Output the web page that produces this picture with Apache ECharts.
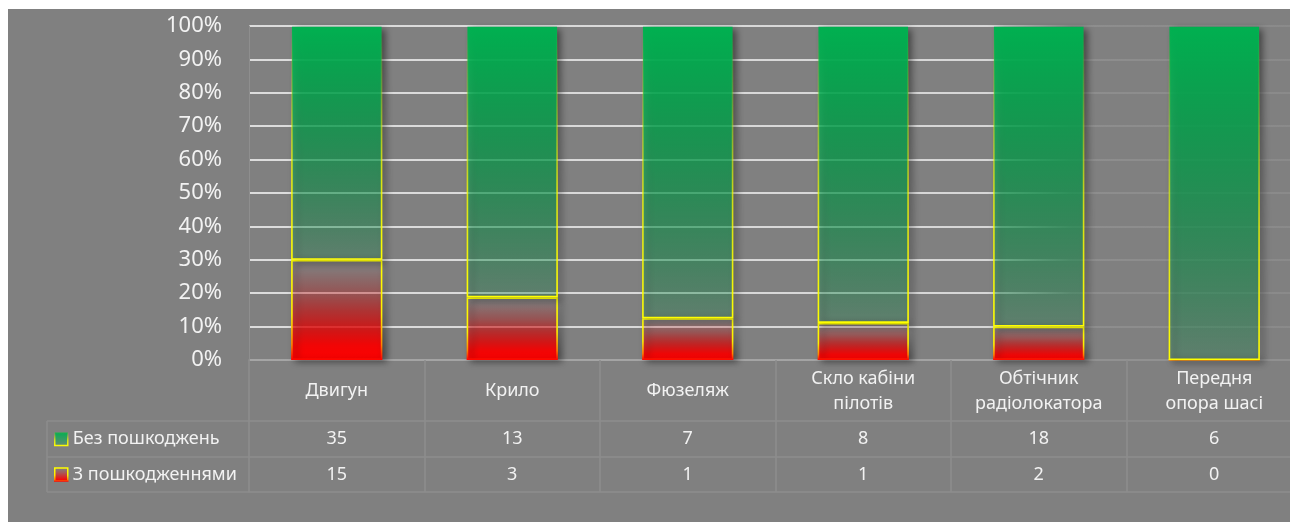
<!DOCTYPE html>
<html>
<head>
<meta charset="utf-8">
<script src="https://cdn.jsdelivr.net/npm/echarts@6/dist/echarts.min.js"></script>
<style>
  html, body { margin: 0; padding: 0; background: #ffffff; width: 1290px; height: 522px; overflow: hidden; position: relative; }
  /* the plot runs a little past the right edge of the window, so the canvas does too */
  #chart { position: absolute; left: 8px; top: 9px; width: 1294px; height: 513px; }
</style>
</head>
<body>
<div id="chart"></div>
<script>
// Aircraft components: counts without and with damage
const categories = ['Двигун', 'Крило', 'Фюзеляж', 'Скло кабіни\nпілотів', 'Обтічник\nрадіолокатора', 'Передня\nопора шасі'];
const intact = [35, 13, 7, 8, 18, 6];
const damaged = [15, 3, 1, 1, 2, 0];
const seriesNames = ['Без пошкоджень', 'З пошкодженнями'];

// Shares of each component total, in percent
const totals = intact.map((v, i) => v + damaged[i]);
const intactPct = intact.map((v, i) => v / totals[i] * 100);
const damagedPct = damaged.map((v, i) => v / totals[i] * 100);

const FONT = 'Noto Sans';
const TEXT = '#f2f2f2';
const CELL_LINE = '#8d8d8d';

const vgrad = (stops) => ({ type: 'linear', x: 0, y: 0, x2: 0, y2: 1, colorStops: stops.map(s => ({ offset: s[0], color: s[1] })) });

const greenFill = vgrad([[0, 'rgba(0,176,80,1)'], [0.5, 'rgba(0,176,80,0.6)'], [1, 'rgba(0,176,80,0.18)']]);
const greenBorder = vgrad([[0, 'rgba(255,255,0,0)'], [0.25, 'rgba(255,255,0,0.25)'], [0.6, 'rgba(255,255,0,0.75)'], [1, 'rgba(255,255,0,1)']]);
const redFill = vgrad([[0, 'rgba(255,0,0,0)'], [0.1, 'rgba(255,0,0,0.05)'], [0.33, 'rgba(255,0,0,0.25)'], [0.67, 'rgba(255,0,0,0.68)'], [0.85, 'rgba(255,0,0,0.92)'], [1, 'rgba(255,0,0,1)']]);
const redBorder = vgrad([[0, '#ffff00'], [0.55, '#ffee00'], [0.85, '#ff8000'], [1, '#ff0000']]);

const gridLineColor = { type: 'linear', x: 0, y: 0, x2: 1, y2: 0, colorStops: [
  { offset: 0, color: '#dcdcdc' }, { offset: 0.7, color: '#d6d6d6' },
  { offset: 0.78, color: '#8e8e8e' }, { offset: 1, color: '#8a8a8a' }] };

const barShadow = { shadowColor: 'rgba(0,0,0,0.5)', shadowBlur: 7, shadowOffsetX: 4, shadowOffsetY: 2 };

// Data-table rows beneath the plot, laid out as extra category axes
function tableAxis(offset, values, tickLen, margin, showLabels) {
  return {
    type: 'category', gridIndex: 0, position: 'bottom', offset: offset,
    data: categories,
    axisLine: { show: true, lineStyle: { color: CELL_LINE, width: 1.5 } },
    axisTick: { show: tickLen > 0, length: tickLen, lineStyle: { color: CELL_LINE, width: 1.5 } },
    axisLabel: {
      show: showLabels, interval: 0, margin: margin, verticalAlign: 'middle',
      color: TEXT, fontFamily: FONT, fontSize: 18,
      formatter: (v, idx) => values ? String(values[idx]) : v
    },
    splitLine: { show: false }
  };
}

const chart = echarts.init(document.getElementById('chart'), null, { renderer: 'canvas' });
chart.setOption({
  backgroundColor: '#808080',
  animation: false,
  grid: { left: 241, right: 0, top: 17, bottom: 162, containLabel: false },
  legend: {
    orient: 'vertical', left: 46, top: 420, padding: 0,
    itemWidth: 13, itemHeight: 13, itemGap: 15.5,
    data: seriesNames, icon: 'rect',
    itemStyle: { shadowBlur: 0, shadowOffsetX: 0, shadowOffsetY: 0, borderWidth: 1.5 },
    textStyle: { color: TEXT, fontFamily: FONT, fontSize: 18, lineHeight: 20, padding: [0, 0, 0, 0] }
  },
  yAxis: {
    type: 'value', min: 0, max: 100, interval: 10,
    axisLine: { show: true, lineStyle: { color: '#8e8e8e', width: 1 } },
    axisTick: { show: false },
    axisLabel: { color: TEXT, fontFamily: FONT, fontSize: 22, margin: 27, formatter: '{value}%' },
    splitLine: { show: true, lineStyle: { color: gridLineColor, width: 2 } }
  },
  xAxis: [
    {
      type: 'category', data: categories, gridIndex: 0, position: 'bottom',
      axisLine: { show: true, lineStyle: { color: '#939393', width: 1.5 } },
      axisTick: { show: true, length: 61, lineStyle: { color: CELL_LINE, width: 1.5 } },
      axisLabel: { interval: 0, margin: 31, verticalAlign: 'middle', lineHeight: 25,
        color: TEXT, fontFamily: FONT, fontSize: 18 }
    },
    tableAxis(61, intact, 36, 18, true),
    tableAxis(97, damaged, 35, 17.5, true),
    tableAxis(132, null, 0, 0, false)
  ],
  series: [
    {
      name: seriesNames[1], type: 'bar', stack: 'share', barWidth: '52%', xAxisIndex: 0,
      data: damagedPct,
      itemStyle: Object.assign({ color: redFill, borderColor: redBorder, borderWidth: 1.6 }, barShadow)
    },
    {
      name: seriesNames[0], type: 'bar', stack: 'share', barWidth: '52%', xAxisIndex: 0,
      data: intactPct,
      itemStyle: Object.assign({ color: greenFill, borderColor: greenBorder, borderWidth: 1.6 }, barShadow)
    }
  ],
  graphic: [
    // left part of the table grid, around the row titles
    { type: 'line', shape: { x1: 39, y1: 412, x2: 241, y2: 412 }, style: { stroke: CELL_LINE, lineWidth: 1.5 } },
    { type: 'line', shape: { x1: 39, y1: 448, x2: 241, y2: 448 }, style: { stroke: CELL_LINE, lineWidth: 1.5 } },
    { type: 'line', shape: { x1: 39, y1: 483, x2: 241, y2: 483 }, style: { stroke: CELL_LINE, lineWidth: 1.5 } },
    { type: 'line', shape: { x1: 39, y1: 412, x2: 39, y2: 483 }, style: { stroke: CELL_LINE, lineWidth: 1.5 } }
  ]
});
</script>
</body>
</html>
